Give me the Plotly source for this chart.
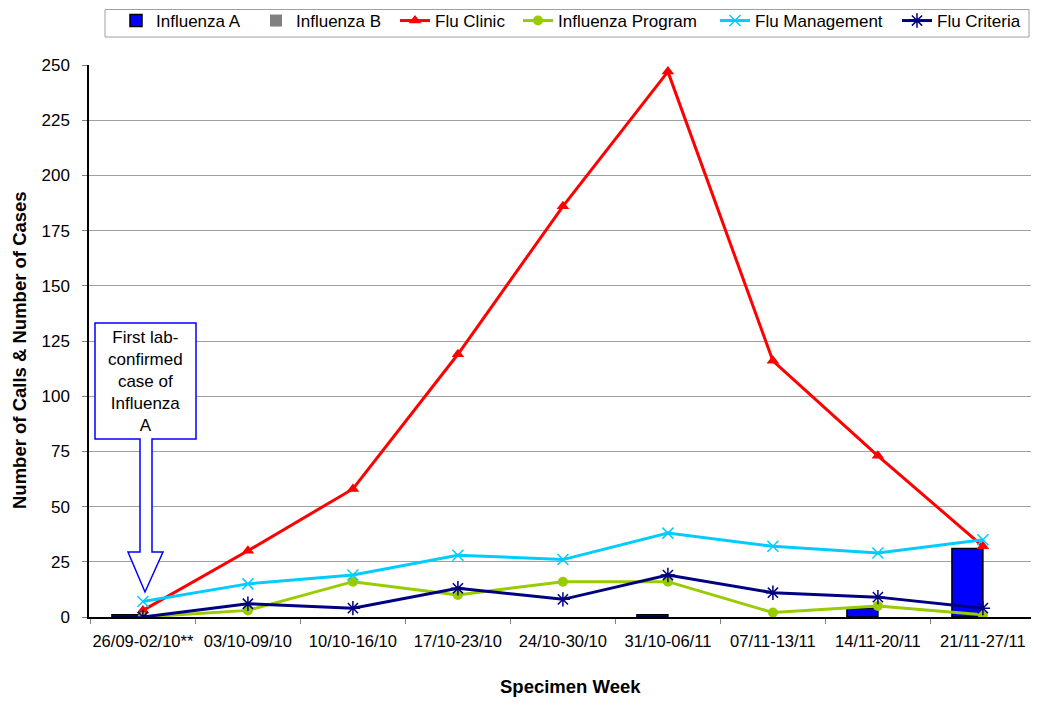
import plotly.graph_objects as go

weeks = ["26/09-02/10**", "03/10-09/10", "10/10-16/10", "17/10-23/10", "24/10-30/10",
         "31/10-06/11", "07/11-13/11", "14/11-20/11", "21/11-27/11"]
influenza_a = [1, 0, 0, 0, 0, 1, 0, 4, 31]
influenza_b = [0, 0, 0, 0, 0, 0, 0, 0, 0]
flu_clinic = [3, 30, 58, 119, 186, 247, 116, 73, 32]
influenza_program = [0, 3, 16, 10, 16, 16, 2, 5, 1]
flu_management = [7, 15, 19, 28, 26, 38, 32, 29, 35]
flu_criteria = [0, 6, 4, 13, 8, 19, 11, 9, 4]

FONT = "Liberation Sans, Arial, sans-serif"

# page offset (body margin) and target plot area in screen pixels
OFF = 8
W, H = 1039 - 2 * OFF, 708 - 2 * OFF
L, R, T, B = 89, 1031, 65, 617
CAT_W = 105.0          # pixel width of one category
FIRST_EDGE = 90.4      # left boundary of the first category

def px(x):
    return (x - L) / (R - L)

def py(y):
    return (B - y) / (B - T)

def border_widths(vals):
    return [1.5 if v > 0 else 0 for v in vals]

x_start = -0.5 - (FIRST_EDGE - L) / CAT_W
x_end = x_start + (R - L) / CAT_W

legend_ids = ["legend", "legend2", "legend3", "legend4", "legend5", "legend6"]
legend_text_x = [157, 297, 436, 559, 756, 938]

fig = go.Figure()
fig.add_trace(go.Bar(x=weeks, y=influenza_a, name="Influenza A", legend=legend_ids[0],
                     marker=dict(color="#0000FF",
                                 line=dict(color="#000000", width=border_widths(influenza_a)))))
fig.add_trace(go.Bar(x=weeks, y=influenza_b, name="Influenza B", legend=legend_ids[1],
                     marker=dict(color="#808080",
                                 line=dict(color="#000000", width=border_widths(influenza_b)))))
fig.add_trace(go.Scatter(x=weeks, y=flu_clinic, name="Flu Clinic", mode="lines+markers",
                         legend=legend_ids[2],
                         line=dict(color="#FF0000", width=3),
                         marker=dict(symbol="triangle-up", size=11, color="#FF0000")))
fig.add_trace(go.Scatter(x=weeks, y=influenza_program, name="Influenza Program", mode="lines+markers",
                         legend=legend_ids[3],
                         line=dict(color="#99CC00", width=3),
                         marker=dict(symbol="circle", size=10, color="#99CC00")))
fig.add_trace(go.Scatter(x=weeks, y=flu_management, name="Flu Management", mode="lines+markers",
                         legend=legend_ids[4],
                         line=dict(color="#00CCFF", width=3),
                         marker=dict(symbol="x-thin-open", size=11, color="#00CCFF",
                                     line=dict(color="#00CCFF", width=1.5))))
fig.add_trace(go.Scatter(x=weeks, y=flu_criteria, name="Flu Criteria", mode="lines+markers",
                         legend=legend_ids[5],
                         line=dict(color="#000080", width=3),
                         marker=dict(symbol="asterisk-open", size=12, color="#000080",
                                     line=dict(color="#000080", width=1.5))))

# callout arrow shape (screen pixel coords -> paper)
pts = [(95, 323), (196, 323), (196, 439), (152, 439), (152, 552), (163, 552),
       (145, 592), (128, 552), (140, 552), (140, 439), (95, 439)]
path = "M " + " L ".join(f"{px(x):.5f},{py(y):.5f}" for x, y in pts) + " Z"

legends = {}
for lid, tx in zip(legend_ids, legend_text_x):
    legends[lid] = dict(orientation="h", x=px(tx - 41), y=py(21), xanchor="left", yanchor="middle",
                        borderwidth=0, bgcolor="rgba(0,0,0,0)",
                        font=dict(family=FONT, size=17), itemwidth=30)

fig.update_layout(
    width=W, height=H,
    margin=dict(l=L - OFF, r=W - (R - OFF), t=T - OFF, b=H - (B - OFF), autoexpand=False),
    paper_bgcolor="white", plot_bgcolor="white",
    font=dict(family=FONT, size=17, color="#000000"),
    barmode="group", bargap=0.41, bargroupgap=0,
    showlegend=True,
    shapes=[
        dict(type="rect", xref="paper", yref="paper", x0=px(105), x1=px(1029), y0=py(9.5), y1=py(37),
             line=dict(color="#A0A0A0", width=1), fillcolor="white", layer="below"),
        dict(type="path", xref="paper", yref="paper", path=path,
             line=dict(color="#0000FF", width=1.5), fillcolor="white", layer="above"),
    ],
    annotations=[
        dict(xref="paper", yref="paper", x=px(145.5), y=py(381),
             text="First lab-<br>confirmed<br>case of<br>Influenza<br>A",
             showarrow=False, font=dict(family=FONT, size=17, color="#000000"),
             align="center", xanchor="center", yanchor="middle"),
        dict(xref="paper", yref="paper", x=px(570), y=py(686),
             text="<b>Specimen Week</b>", showarrow=False,
             font=dict(family=FONT, size=18.5, color="#000000"),
             xanchor="center", yanchor="middle"),
        dict(xref="paper", yref="paper", x=px(19), y=py(350),
             text="<b>Number of Calls & Number of Cases</b>", showarrow=False, textangle=-90,
             font=dict(family=FONT, size=18.5, color="#000000"),
             xanchor="center", yanchor="middle"),
    ],
    xaxis=dict(type="category", range=[x_start, x_end],
               showline=True, linecolor="#000000", linewidth=1.5,
               ticks="outside", tickson="boundaries", ticklen=5, tickcolor="#808080",
               showgrid=False, tickfont=dict(size=16.5), automargin=False, tickangle=0,
               ticklabelstandoff=8),
    yaxis=dict(range=[0, 250], dtick=25, showline=True, linecolor="#000000", linewidth=1.5,
               ticks="outside", ticklen=5, tickcolor="#808080",
               showgrid=True, gridcolor="#A0A0A0", gridwidth=1, zeroline=False,
               tickfont=dict(size=17), automargin=False, ticklabelstandoff=9),
    **legends,
)

fig.write_html("out.html")
